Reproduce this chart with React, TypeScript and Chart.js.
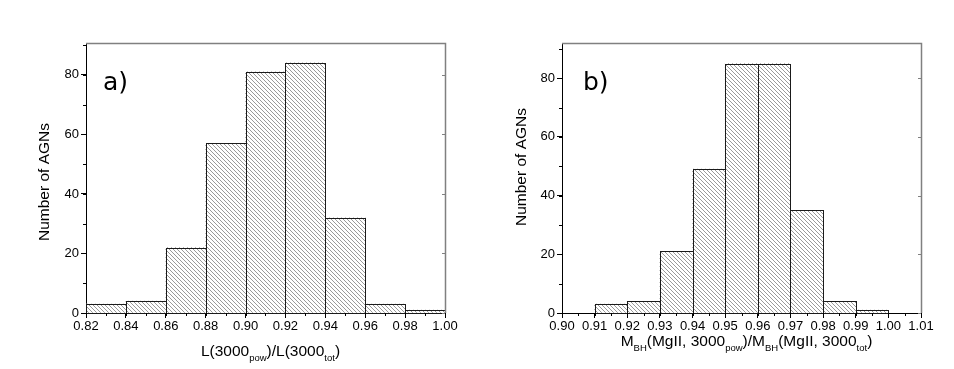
import React, { useEffect, useRef } from 'react';
import { Chart, registerables } from 'chart.js';

Chart.register(...registerables);

// ---- Data: panel a) ----
const binStartA = [0.82, 0.84, 0.86, 0.88, 0.9, 0.92, 0.94, 0.96, 0.98];
const countsA = [3, 4, 22, 57, 81, 84, 32, 3, 1];
const binWidthA = 0.02;
const xTicksA = [0.82, 0.84, 0.86, 0.88, 0.9, 0.92, 0.94, 0.96, 0.98, 1.0];
const xMinorStepA = 0.01;

// ---- Data: panel b) ----
const binStartB = [0.91, 0.92, 0.93, 0.94, 0.95, 0.96, 0.97, 0.98, 0.99];
const countsB = [3, 4, 21, 49, 85, 85, 35, 4, 1];
const binWidthB = 0.01;
const xTicksB = [0.9, 0.91, 0.92, 0.93, 0.94, 0.95, 0.96, 0.97, 0.98, 0.99, 1.0, 1.01];
const xMinorStepB = 0.005;

const yTicks = [0, 20, 40, 60, 80];
const yMinorStep = 10;
const yTitle = 'Number of AGNs';

type Part = [string, number];
const xTitleA: Part[] = [['L(3000', 0], ['pow', 1], [')/L(3000', 0], ['tot', 1], [')', 0]];
const xTitleB: Part[] = [
  ['M', 0], ['BH', 1], ['(MgII, 3000', 0], ['pow', 1], [')/M', 0], ['BH', 1], ['(MgII, 3000', 0], ['tot', 1], [')', 0],
];

const FONT = '"Liberation Sans", Arial, sans-serif';

function makeHatch(): CanvasPattern | string {
  const s = 4;
  const c = document.createElement('canvas');
  c.width = s;
  c.height = s;
  const g = c.getContext('2d');
  if (!g) return '#ccc';
  g.fillStyle = '#ffffff';
  g.fillRect(0, 0, s, s);
  g.strokeStyle = '#8e8e8e';
  g.lineWidth = 0.9;
  for (let k = -1; k <= 1; k++) {
    g.beginPath();
    g.moveTo(-1, k * s - 1);
    g.lineTo(s + 1, s + k * s + 1);
    g.stroke();
  }
  const p = g.createPattern(c, 'repeat');
  return p || '#ccc';
}

function drawRich(ctx: CanvasRenderingContext2D, parts: Part[], cx: number, baseline: number) {
  const mainFont = `15.5px ${FONT}`;
  const subFont = `9.5px ${FONT}`;
  let total = 0;
  parts.forEach(([t, sub]) => {
    ctx.font = sub ? subFont : mainFont;
    total += ctx.measureText(t).width;
  });
  let x = cx - total / 2;
  ctx.textAlign = 'left';
  ctx.textBaseline = 'alphabetic';
  ctx.fillStyle = '#000';
  parts.forEach(([t, sub]) => {
    ctx.font = sub ? subFont : mainFont;
    ctx.fillText(t, x, sub ? baseline + 5 : baseline);
    x += ctx.measureText(t).width;
  });
}

const decor = {
  id: 'panelDecor',
  afterDatasetsDraw(chart: any) {
    const ctx: CanvasRenderingContext2D = chart.ctx;
    const meta = chart.getDatasetMeta(0);
    ctx.save();
    ctx.strokeStyle = '#1a1a1a';
    ctx.lineWidth = 1;
    meta.data.forEach((b: any) => {
      const { x, y, base, width } = b.getProps(['x', 'y', 'base', 'width'], true);
      const l = Math.round(x - width / 2) + 0.5;
      const r = Math.round(x + width / 2) + 0.5;
      const t = Math.round(y) + 0.5;
      const bt = Math.round(base) + 0.5;
      ctx.strokeRect(l, t, r - l, bt - t);
    });
    ctx.restore();
  },
  afterDraw(chart: any, _args: any, opts: any) {
    const ctx: CanvasRenderingContext2D = chart.ctx;
    const area = chart.chartArea;
    const xs = chart.scales.x;
    const ys = chart.scales.y;
    ctx.save();
    // frame top & right
    ctx.strokeStyle = '#808080';
    ctx.lineWidth = 1.5;
    ctx.beginPath();
    ctx.moveTo(Math.round(area.left), Math.round(area.top) + 0.5);
    ctx.lineTo(Math.round(area.right) + 0.5, Math.round(area.top) + 0.5);
    ctx.lineTo(Math.round(area.right) + 0.5, Math.round(area.bottom));
    ctx.stroke();
    // right inward ticks
    ctx.lineWidth = 1;
    yTicks.forEach((v) => {
      const py = Math.round(ys.getPixelForValue(v)) + 0.5;
      ctx.beginPath();
      ctx.moveTo(area.right, py);
      ctx.lineTo(area.right - 3, py);
      ctx.stroke();
    });
    // minor ticks
    ctx.strokeStyle = '#000';
    ctx.lineWidth = 1;
    const xmin = xs.min;
    const xmax = xs.max;
    const step = opts.xMinorStep;
    const n = Math.round((xmax - xmin) / step);
    for (let i = 0; i <= n; i++) {
      const v = xmin + i * step;
      const px = Math.round(xs.getPixelForValue(v)) + 0.5;
      ctx.beginPath();
      ctx.moveTo(px, area.bottom);
      ctx.lineTo(px, area.bottom + 3);
      ctx.stroke();
    }
    for (let v = 0; v <= ys.max; v += yMinorStep) {
      const py = Math.round(ys.getPixelForValue(v)) + 0.5;
      ctx.beginPath();
      ctx.moveTo(area.left, py);
      ctx.lineTo(area.left - 3, py);
      ctx.stroke();
    }
    // panel label
    ctx.fillStyle = '#000';
    ctx.font = `25px "DejaVu Sans", sans-serif`;
    ctx.textAlign = 'left';
    ctx.textBaseline = 'alphabetic';
    ctx.fillText(opts.label, area.left + opts.labelDx, 90);
    // y title
    ctx.save();
    ctx.translate(opts.yTitleX, opts.yTitleY);
    ctx.rotate(-Math.PI / 2);
    ctx.font = `15.5px ${FONT}`;
    ctx.textAlign = 'center';
    ctx.textBaseline = 'middle';
    ctx.fillText(yTitle, 0, 0);
    ctx.restore();
    // x title
    drawRich(ctx, opts.xTitle, (area.left + area.right) / 2 + opts.xTitleDx, opts.xTitleBaseline);
    ctx.restore();
  },
};

interface PanelCfg {
  starts: number[];
  counts: number[];
  width: number;
  xTicks: number[];
  xMinorStep: number;
  yMax: number;
  label: string;
  labelDx: number;
  yAxisWidth: number;
  rightPad: number;
  yTitleY: number;
  xTitle: Part[];
  xTitleBaseline: number;
  xTitleDx: number;
}

function Panel({ cfg, left }: { cfg: PanelCfg; left: number }) {
  const ref = useRef<HTMLCanvasElement>(null);
  useEffect(() => {
    if (!ref.current) return;
    const hatch = makeHatch();
    const tickFont = { family: FONT, size: 13 };
    const chart = new Chart(ref.current, {
      type: 'bar',
      data: {
        datasets: [
          {
            data: cfg.starts.map((s, i) => ({ x: s + cfg.width / 2, y: cfg.counts[i] })),
            backgroundColor: hatch as any,
            borderWidth: 0,
            barPercentage: 1,
            categoryPercentage: 1,
          },
        ],
      },
      options: {
        responsive: false,
        animation: false,
        layout: { padding: { left: 0, top: 43, right: cfg.rightPad, bottom: 0 } },
        plugins: {
          legend: { display: false },
          tooltip: { enabled: false },
          panelDecor: {
            xMinorStep: cfg.xMinorStep,
            label: cfg.label,
            labelDx: cfg.labelDx,
            yTitleX: 45,
            yTitleY: cfg.yTitleY,
            xTitle: cfg.xTitle,
            xTitleBaseline: cfg.xTitleBaseline,
            xTitleDx: cfg.xTitleDx,
          },
        } as any,
        scales: {
          x: {
            type: 'linear',
            min: cfg.xTicks[0],
            max: cfg.xTicks[cfg.xTicks.length - 1],
            offset: false,
            afterBuildTicks: (s: any) => {
              s.ticks = cfg.xTicks.map((v) => ({ value: v }));
            },
            afterFit: (s: any) => {
              s.height = 56;
            },
            ticks: {
              callback: (v: any) => Number(v).toFixed(2),
              font: tickFont,
              color: '#000',
              padding: 1,
              maxRotation: 0,
              autoSkip: false,
            },
            grid: { drawOnChartArea: false, drawTicks: true, tickLength: 5, color: '#000', offset: false },
            border: { display: true, color: '#000', width: 1 },
          },
          y: {
            type: 'linear',
            min: 0,
            max: cfg.yMax,
            afterBuildTicks: (s: any) => {
              s.ticks = yTicks.map((v) => ({ value: v }));
            },
            afterFit: (s: any) => {
              s.width = cfg.yAxisWidth;
            },
            ticks: { font: tickFont, color: '#000', padding: 2 },
            grid: { drawOnChartArea: false, drawTicks: true, tickLength: 5, color: '#000' },
            border: { display: true, color: '#000', width: 1 },
          },
        },
      },
      plugins: [decor as any],
    });
    return () => chart.destroy();
  }, [cfg]);
  return (
    <canvas
      ref={ref}
      width={477}
      height={369}
      style={{ position: 'absolute', left, top: 0, width: 477, height: 369 }}
    />
  );
}

const cfgA: PanelCfg = {
  starts: binStartA,
  counts: countsA,
  width: binWidthA,
  xTicks: xTicksA,
  xMinorStep: xMinorStepA,
  yMax: 90.7,
  label: 'a)',
  labelDx: 17,
  yAxisWidth: 86,
  rightPad: 32,
  yTitleY: 182,
  xTitle: xTitleA,
  xTitleBaseline: 356,
  xTitleDx: 5,
};

const cfgB: PanelCfg = {
  starts: binStartB,
  counts: countsB,
  width: binWidthB,
  xTicks: xTicksB,
  xMinorStep: xMinorStepB,
  yMax: 92,
  label: 'b)',
  labelDx: 21,
  yAxisWidth: 85,
  rightPad: 33,
  yTitleY: 167,
  xTitle: xTitleB,
  xTitleBaseline: 346,
  xTitleDx: 5,
};

export default function App() {
  return (
    <div style={{ position: 'absolute', left: 0, top: 0, width: 954, height: 369, background: '#fff', overflow: 'hidden' }}>
      <Panel cfg={cfgA} left={0} />
      <Panel cfg={cfgB} left={477} />
    </div>
  );
}
